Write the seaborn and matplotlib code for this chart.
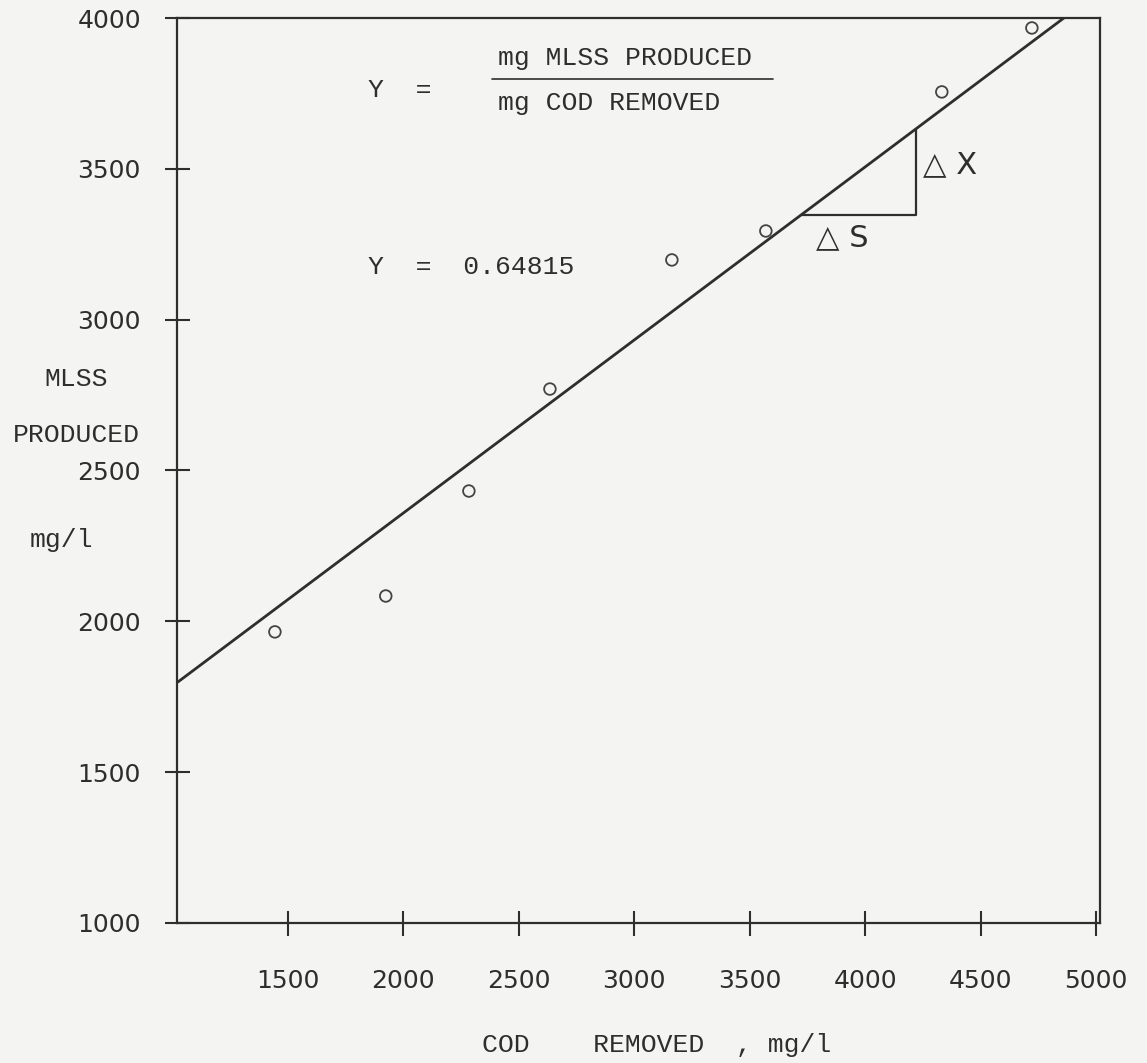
import matplotlib
matplotlib.use("Agg")
import matplotlib.pyplot as plt
import seaborn as sns
import pandas as pd

# ---- data ----
cod_removed = [1444, 1924, 2284, 2635, 3163, 3570, 4332, 4722]
mlss_produced = [1965, 2084, 2432, 2770, 3198, 3294, 3755, 3967]
fit_x = [1024, 4878]
fit_y = [1799, 4010]
x_ticks = [1500, 2000, 2500, 3000, 3500, 4000, 4500, 5000]
y_ticks = [1000, 1500, 2000, 2500, 3000, 3500, 4000]
tri_x = [3722, 4220, 4220]   # slope triangle corners (x)
tri_y = [3347, 3347, 3633]   # slope triangle corners (y)
yield_text = "Y  =  0.64815"

INK = "#2e2e2e"
BG = "#f4f4f2"

sns.set_theme(style="white")
plt.rcParams['font.family'] = ['DejaVu Sans']

fig = plt.figure(figsize=(11.47, 10.63), dpi=100, facecolor=BG)
ax = fig.add_axes([177/1147, 140/1063, 923/1147, 905/1063])
ax.set_facecolor(BG)

df = pd.DataFrame({"cod": cod_removed, "mlss": mlss_produced})
fit = pd.DataFrame({"x": fit_x, "y": fit_y})

sns.lineplot(data=fit, x="x", y="y", ax=ax, color=INK, linewidth=2.0)
sns.scatterplot(data=df, x="cod", y="mlss", ax=ax, marker="o", s=70,
                facecolor="none", edgecolor="#444444", linewidth=1.3, zorder=3)
ax.plot(tri_x, tri_y, color=INK, linewidth=1.6)

ax.set_xlim(1020, 5017)
ax.set_ylim(1000, 4000)
ax.set_xticks(x_ticks)
ax.set_yticks(y_ticks)
ax.set_xticklabels([str(v) for v in x_ticks])
ax.set_yticklabels([str(v) for v in y_ticks])
ax.tick_params(axis="both", direction="inout", length=18, width=1.5,
               colors=INK, labelsize=18, labelcolor=INK,
               bottom=True, left=True, top=False, right=False)
ax.tick_params(axis="y", pad=17)
ax.tick_params(axis="x", pad=24)

for s in ax.spines.values():
    s.set_visible(True)
    s.set_color(INK)
    s.set_linewidth(1.6)

mono = ['Liberation Mono', 'DejaVu Sans']


def A(px, py):
    return ((px - 177) / 923, (923 - py) / 905)


ax.set_xlabel("COD    REMOVED  , mg/l", fontsize=19, family=mono, color=INK,
              va="center", ha="center")
ax.xaxis.set_label_coords(*A(657, 1045))
ax.set_ylabel("MLSS\n\nPRODUCED", fontsize=19, family=mono, color=INK,
              rotation=0, va="center", ha="center", multialignment="center",
              linespacing=1.2)
ax.yaxis.set_label_coords(*A(76, 407))
ax.text(*A(61, 540), "mg/l", transform=ax.transAxes, fontsize=19, family=mono,
        color=INK, ha="center", va="center")

ax.text(*A(368, 90), "Y  =", transform=ax.transAxes, fontsize=19, family=mono,
        color=INK, ha="left", va="center")
ax.text(*A(498, 58), "mg MLSS PRODUCED", transform=ax.transAxes, fontsize=19,
        family=mono, color=INK, ha="left", va="center")
ax.text(*A(498, 103), "mg COD REMOVED", transform=ax.transAxes, fontsize=19,
        family=mono, color=INK, ha="left", va="center")
x0, yb = A(492, 79)
x1, _ = A(773, 79)
ax.plot([x0, x1], [yb, yb], transform=ax.transAxes, color=INK, linewidth=1.2)

ax.text(*A(368, 267), yield_text, transform=ax.transAxes, fontsize=19,
        family=mono, color=INK, ha="left", va="center")

ax.text(*A(923, 165), "\u25b3 X", transform=ax.transAxes, fontsize=22,
        color=INK, ha="left", va="center")
ax.text(*A(816, 238), "\u25b3 S", transform=ax.transAxes, fontsize=22,
        color=INK, ha="left", va="center")

fig.savefig("out.png", dpi=100, facecolor=BG)
